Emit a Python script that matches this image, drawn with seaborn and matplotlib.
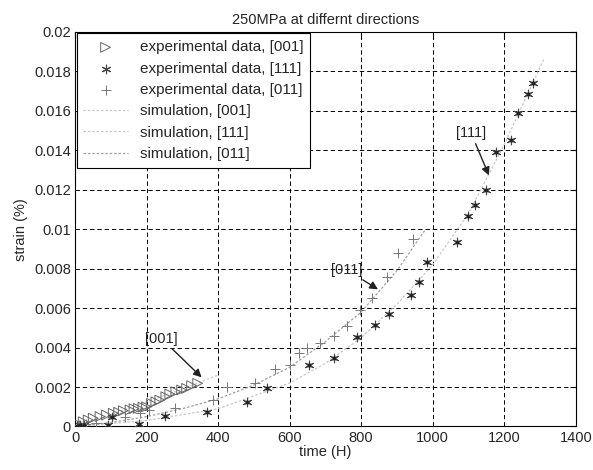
import matplotlib
matplotlib.use("Agg")
import matplotlib.pyplot as plt
import seaborn as sns
import pandas as pd

# ---- data ----
t001 = [5, 23, 37, 51, 70, 88, 107, 122, 135, 154, 165, 177, 190, 200, 214, 226,
        237, 254, 265, 282, 298, 312, 326, 343]
s001 = [0.00016, 0.00024, 0.00033, 0.00042, 0.0005, 0.00058, 0.00067, 0.00072,
        0.0008, 0.00084, 0.0009, 0.00092, 0.00098, 0.001, 0.00117, 0.00125,
        0.00134, 0.00151, 0.00165, 0.00176, 0.00185, 0.00193, 0.00207, 0.00219]

t111 = [5, 15, 25, 92, 103, 179, 251, 369, 481, 536, 654, 724, 788, 840, 878,
        940, 962, 985, 1068, 1099, 1119, 1150, 1178, 1219, 1238, 1267, 1280]
s111 = [0.00003, 0.00008, 0.00005, 0.0001, 0.00047, 0.00015, 0.00052, 0.00071,
        0.00122, 0.00196, 0.00311, 0.00349, 0.00455, 0.00514, 0.00568, 0.00669,
        0.00733, 0.00834, 0.00933, 0.01066, 0.01125, 0.01197, 0.01391, 0.01454,
        0.0159, 0.01683, 0.0174]

t011 = [10, 30, 60, 140, 182, 208, 279, 385, 424, 503, 559, 602, 626, 649, 684,
        723, 759, 798, 829, 871, 903, 945]
s011 = [0.0001, 0.00015, 0.0002, 0.0005, 0.00067, 0.00084, 0.00092, 0.00136,
        0.00202, 0.00219, 0.0029, 0.00311, 0.0037, 0.004, 0.00424, 0.0046,
        0.00511, 0.00593, 0.00649, 0.00758, 0.00877, 0.00948]

sim001_t = [0, 100, 200, 300, 400]
sim001_s = [0, 0.0006, 0.00125, 0.0019, 0.0026]
sim111_t = [0, 200, 400, 600, 700, 800, 900, 1000, 1100, 1200, 1310]
sim111_s = [0, 0.0003, 0.0009, 0.0022, 0.0032, 0.0045, 0.0062, 0.0082, 0.0108,
            0.0143, 0.0186]
sim011_t = [0, 100, 200, 300, 400, 500, 600, 700, 800, 900, 980]
sim011_s = [0, 0.0002, 0.0005, 0.0009, 0.0014, 0.0021, 0.003, 0.0043, 0.0058,
            0.0079, 0.0100]

xticks = [0, 200, 400, 600, 800, 1000, 1200, 1400]
yticks = [0, 0.002, 0.004, 0.006, 0.008, 0.01, 0.012, 0.014, 0.016, 0.018, 0.02]

title = "250MPa at differnt directions"
xlabel = "time (H)"
ylabel = "strain (%)"

labels = ["experimental data, [001]", "experimental data, [111]",
          "experimental data, [011]", "simulation, [001]",
          "simulation, [111]", "simulation, [011]"]

# annotations: (text, text_x, text_y, tip_x, tip_y)
annots = [("[001]", 242, 0.0041, 354, 0.00249),
          ("[011]", 759, 0.0076, 847, 0.00695),
          ("[111]", 1108, 0.0145, 1157, 0.01273)]

# ---- plotting ----
sns.set_style("white")
plt.rcParams["font.family"] = ["Liberation Sans", "DejaVu Sans"]

fig = plt.figure(figsize=(5.93, 4.70), dpi=100)
ax = fig.add_axes([0.1265, 0.0926, 0.971 - 0.1265, 0.932 - 0.0926])

d001 = pd.DataFrame({"t": t001, "s": s001})
d111 = pd.DataFrame({"t": t111, "s": s111})
d011 = pd.DataFrame({"t": t011, "s": s011})

sns.scatterplot(data=d001, x="t", y="s", ax=ax, marker=">", s=50,
                facecolor="none", edgecolor="#666666", linewidth=0.7,
                label=labels[0], zorder=3)
sns.scatterplot(data=d111, x="t", y="s", ax=ax, marker=(6, 2, 0), s=38,
                color="#444444", linewidth=0.8, label=labels[1], zorder=3)
sns.scatterplot(data=d111, x="t", y="s", ax=ax, marker="o", s=9,
                color="#222222", linewidth=0, zorder=4)
sns.scatterplot(data=d011, x="t", y="s", ax=ax, marker="+", s=60,
                color="#777777", linewidth=0.7, label=labels[2], zorder=3)

sim_colors = ["#c8c8c8", "#c8c8c8", "#a0a0a0"]
for (tt, ss), lab, c in zip([(sim001_t, sim001_s), (sim111_t, sim111_s),
                             (sim011_t, sim011_s)], labels[3:], sim_colors):
    sns.lineplot(x=tt, y=ss, ax=ax, color=c, linestyle=(0, (2, 1.5)),
                 linewidth=0.9, label=lab, zorder=2)

for txt, tx, ty, px, py in annots:
    ax.annotate(txt, xy=(px, py), xytext=(tx, ty), fontsize=10.5,
                ha="center", va="bottom",
                arrowprops=dict(arrowstyle="-|>", color="#222222", lw=1.0,
                                mutation_scale=12, shrinkA=0, shrinkB=0))

ax.set_xlim(0, 1400)
ax.set_ylim(0, 0.02)
ax.set_xticks(xticks)
ax.set_yticks(yticks)
ax.set_xticklabels([f"{v:g}" for v in xticks])
ax.set_yticklabels([f"{v:g}" for v in yticks])
ax.tick_params(direction="in", length=4, labelsize=10.5, top=True, right=True,
               color="black", pad=3)
ax.grid(True, color="black", linestyle=(0, (4.5, 3)), linewidth=0.7)
for sp in ax.spines.values():
    sp.set_color("black")
    sp.set_linewidth(0.8)

ax.set_title(title, fontsize=10.5, pad=6)
ax.set_xlabel(xlabel, fontsize=10.5, labelpad=0)
ax.set_ylabel(ylabel, fontsize=10.5, labelpad=4)

leg = ax.legend(loc="upper left", borderaxespad=0.1, fontsize=11,
                frameon=True, fancybox=False, edgecolor="black",
                framealpha=1, handlelength=2.9, labelspacing=0.48,
                borderpad=0.45)
leg.get_frame().set_linewidth(0.8)

fig.savefig("out.png", dpi=100)
